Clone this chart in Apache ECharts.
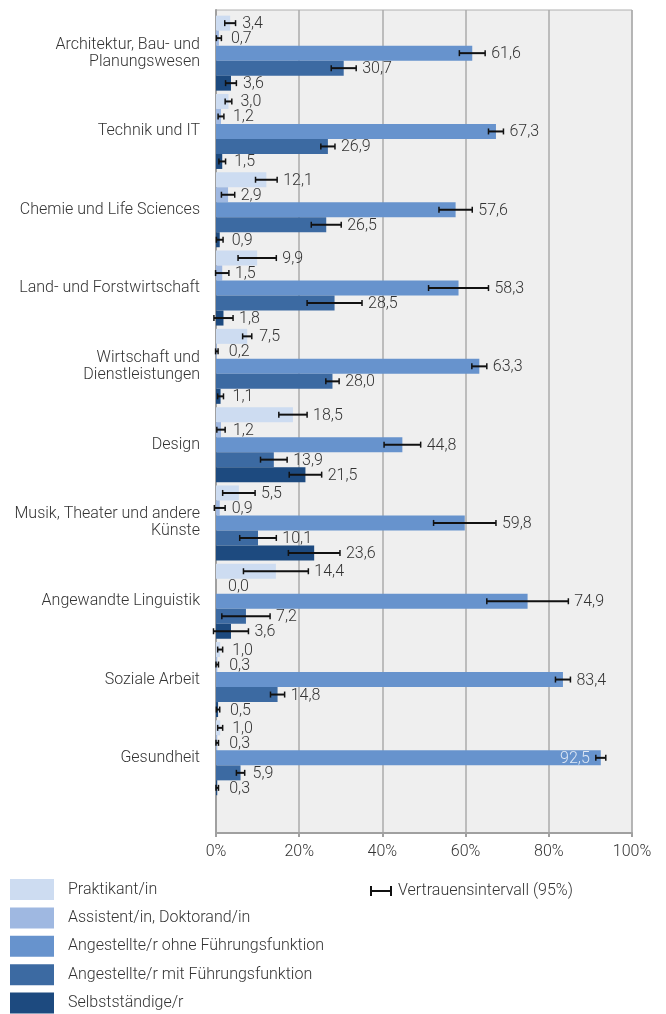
<!DOCTYPE html>
<html>
<head>
<meta charset="utf-8">
<script src="https://cdn.jsdelivr.net/npm/echarts@6/dist/echarts.min.js"></script>
<style>
  html, body { margin: 0; padding: 0; background: #fff; }
  #chart { width: 666px; height: 1014px; }
</style>
</head>
<body>
<div id="chart"></div>
<script>
// Fachrichtungen (top to bottom)
const categories = [
  'Architektur, Bau- und\nPlanungswesen',
  'Technik und IT',
  'Chemie und Life Sciences',
  'Land- und Forstwirtschaft',
  'Wirtschaft und\nDienstleistungen',
  'Design',
  'Musik, Theater und andere\nKünste',
  'Angewandte Linguistik',
  'Soziale Arbeit',
  'Gesundheit'
];

const seriesNames = [
  'Praktikant/in',
  'Assistent/in, Doktorand/in',
  'Angestellte/r ohne Führungsfunktion',
  'Angestellte/r mit Führungsfunktion',
  'Selbstständige/r'
];
const ciName = 'Vertrauensintervall (95%)';

// Anteile in % und halbe Breite des 95%-Vertrauensintervalls
const praktikant   = [3.4, 3.0, 12.1, 9.9, 7.5, 18.5, 5.5, 14.4, 1.0, 1.0];
const praktikantCI = [1.3, 0.8, 2.6, 4.6, 1.1, 3.4, 3.9, 7.8, 0.6, 0.6];
const assistent    = [0.7, 1.2, 2.9, 1.5, 0.2, 1.2, 0.9, 0.0, 0.3, 0.3];
const assistentCI  = [0.6, 0.7, 1.6, 1.6, 0.3, 1.0, 1.3, 0.0, 0.3, 0.3];
const ohneFuehrung   = [61.6, 67.3, 57.6, 58.3, 63.3, 44.8, 59.8, 74.9, 83.4, 92.5];
const ohneFuehrungCI = [3.1, 1.8, 4.0, 7.2, 1.8, 4.4, 7.5, 9.8, 1.8, 1.2];
const mitFuehrung    = [30.7, 26.9, 26.5, 28.5, 28.0, 13.9, 10.1, 7.2, 14.8, 5.9];
const mitFuehrungCI  = [3.0, 1.7, 3.6, 6.6, 1.6, 3.2, 4.4, 5.8, 1.7, 1.0];
const selbststaendig   = [3.6, 1.5, 0.9, 1.8, 1.1, 21.5, 23.6, 3.6, 0.5, 0.3];
const selbststaendigCI = [1.3, 0.8, 0.8, 2.3, 0.7, 3.9, 6.2, 4.2, 0.4, 0.3];

const xTicks = [0, 20, 40, 60, 80, 100];

const values = [praktikant, assistent, ohneFuehrung, mitFuehrung, selbststaendig];
const errors = [praktikantCI, assistentCI, ohneFuehrungCI, mitFuehrungCI, selbststaendigCI];
const colors = ['#cddcf1', '#9fb8e1', '#6793cd', '#3c6aa2', '#1d4a7f'];

const BAR_W = 15;
const FONT_SIZE = 16;
const FONT = '300 ' + FONT_SIZE + 'px Roboto, "Noto Sans", sans-serif';
const fmt = v => v.toFixed(1).replace('.', ',');

// one record per bar: [value, category index, half CI, series index]
const ciData = [];
values.forEach((arr, s) => arr.forEach((v, i) => ciData.push([v, i, errors[s][i], s])));

const chart = echarts.init(document.getElementById('chart'), null, { renderer: 'canvas' });

const barSeries = values.map((arr, s) => ({
  name: seriesNames[s],
  type: 'bar',
  xAxisIndex: 1,
  yAxisIndex: 1,
  data: arr,
  barWidth: BAR_W,
  barGap: '0%',
  itemStyle: { color: colors[s] },
  silent: true,
  z: 2
}));

function textWidth(text) {
  const ctx = textWidth.ctx || (textWidth.ctx = document.createElement('canvas').getContext('2d'));
  ctx.font = FONT;
  return ctx.measureText(text).width;
}

function renderCI(params, api) {
  const v = api.value(0);
  const cat = api.value(1);
  const e = api.value(2);
  const s = api.value(3);
  const centre = api.coord([0, cat]);
  const y = centre[1] + (s - 2) * BAR_W;
  const xv = api.coord([v, cat])[0];
  const xr = api.coord([100, cat])[0];
  const children = [];
  let rightEdge = xv;
  if (e > 0) {
    const xl = api.coord([v - e, cat])[0];
    const xh = api.coord([v + e, cat])[0];
    rightEdge = xh;
    children.push({ type: 'line', shape: { x1: xl, y1: y, x2: xh, y2: y }, style: { stroke: '#111', lineWidth: 2 } });
    children.push({ type: 'line', shape: { x1: xl, y1: y - 3, x2: xl, y2: y + 3 }, style: { stroke: '#111', lineWidth: 1.5 } });
    children.push({ type: 'line', shape: { x1: xh, y1: y - 3, x2: xh, y2: y + 3 }, style: { stroke: '#111', lineWidth: 1.5 } });
  }
  const text = fmt(v);
  const lx = Math.max(rightEdge + 6, xv + 12);
  if (lx + textWidth(text) > xr) {
    // no room to the right of the interval: write the value inside the bar
    children.push({
      type: 'text',
      style: { text, x: xv - 11, y: y + 1, align: 'right', verticalAlign: 'middle', font: FONT, fill: '#dfe8f5' }
    });
  } else {
    children.push({
      type: 'text',
      style: { text, x: lx, y: y + 1, align: 'left', verticalAlign: 'middle', font: FONT, fill: '#333' }
    });
  }
  return { type: 'group', children };
}

const option = {
  animation: false,
  backgroundColor: '#fff',
  textStyle: { fontFamily: 'Roboto, "Noto Sans", sans-serif', fontWeight: 300 },
  legend: [
    {
      data: seriesNames,
      orient: 'vertical',
      left: 10,
      top: 879,
      padding: 0,
      height: 140,
      itemWidth: 44,
      itemHeight: 21,
      itemGap: 7.4,
      icon: 'rect',
      selectedMode: false,
      textStyle: { fontSize: FONT_SIZE, color: '#333', fontWeight: 300, padding: [0, 0, 0, 9] }
    },
    {
      data: [ciName],
      left: 370,
      top: 883,
      padding: 0,
      itemWidth: 22,
      itemHeight: 10,
      icon: 'path://M0,0h2v4h18v-4h2v10h-2v-4h-18v4h-2z',
      selectedMode: false,
      textStyle: { fontSize: FONT_SIZE, color: '#333', fontWeight: 300, padding: [0, 0, 0, 1] }
    }
  ],
  grid: [
    { left: 216, top: 10, width: 416, height: 823, show: true, backgroundColor: '#efefef', borderColor: '#b0b0b0', borderWidth: 1, containLabel: false },
    { left: 216, top: 14, width: 416, height: 783, containLabel: false }
  ],
  xAxis: [
    {
      gridIndex: 0,
      type: 'value',
      min: xTicks[0],
      max: xTicks[xTicks.length - 1],
      interval: 20,
      axisLine: { show: true, lineStyle: { color: '#a0a0a0', width: 2 } },
      axisTick: { show: true, length: 4, lineStyle: { color: '#a0a0a0', width: 2 } },
      splitLine: { show: true, lineStyle: { color: '#ababab', width: 1.5 } },
      axisLabel: { formatter: '{value}%', fontSize: FONT_SIZE, color: '#333', margin: 11, fontWeight: 300 }
    },
    {
      gridIndex: 1,
      type: 'value',
      min: xTicks[0],
      max: xTicks[xTicks.length - 1],
      show: false
    }
  ],
  yAxis: [
    {
      gridIndex: 0,
      type: 'category',
      data: [''],
      axisLine: { show: true, lineStyle: { color: '#a0a0a0', width: 2 } },
      axisTick: { show: false },
      axisLabel: { show: false }
    },
    {
      gridIndex: 1,
      type: 'category',
      inverse: true,
      data: categories,
      axisLine: { show: false },
      axisTick: { show: false },
      axisLabel: { fontSize: FONT_SIZE, color: '#333', lineHeight: 17, margin: 16, fontWeight: 300, align: 'right' }
    }
  ],
  series: [
    ...barSeries,
    {
      name: ciName,
      type: 'custom',
      xAxisIndex: 1,
      yAxisIndex: 1,
      data: ciData,
      encode: { x: 0, y: 1 },
      itemStyle: { color: '#111' },
      renderItem: renderCI,
      silent: true,
      z: 5
    }
  ]
};

chart.setOption(option);
</script>
</body>
</html>
